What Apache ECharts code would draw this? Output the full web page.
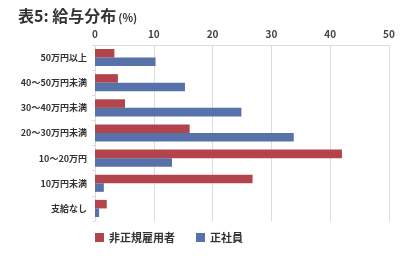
<!DOCTYPE html>
<html>
<head>
<meta charset="utf-8">
<script src="https://cdn.jsdelivr.net/npm/echarts@6/dist/echarts.min.js"></script>
<style>
	html, body { margin: 0; padding: 0; background: #fff; }
	#chart { width: 400px; height: 259px; }
</style>
</head>
<body>
<div id="chart"></div>
<script>
var categories = ['50万円以上', '40〜50万円未満', '30〜40万円未満', '20〜30万円未満', '10〜20万円', '10万円未満', '支給なし'];
var nonRegular = [3.3, 3.9, 5.1, 16.1, 42.0, 26.8, 2.0];
var regular = [10.3, 15.3, 24.9, 33.8, 13.1, 1.5, 0.7];
var seriesNames = ['非正規雇用者', '正社員'];

var font = '"Noto Sans CJK JP", "Noto Sans", sans-serif';

function initPage() {
	var myChart = echarts.init(document.getElementById('chart'));

	myChart.setOption({
		animation : false,
		title : {
			text : '表5: 給与分布{s|(%)}',
			left : 13,
			top : 3,
			textStyle : {
				fontFamily : font,
				fontSize : 16,
				fontWeight : 'bold',
				color : '#333',
				rich : {
					s : {
						fontFamily : font,
						fontSize : 11,
						fontWeight : 'bold',
						color : '#333',
						padding : [4, 0, 0, 2]
					}
				}
			}
		},
		legend : {
			bottom : 11,
			left : 90,
			itemWidth : 9,
			itemHeight : 9,
			itemGap : 21,
			icon : 'rect',
			textStyle : {
				fontFamily : font,
				fontSize : 11,
				fontWeight : 'bold',
				color : '#333'
			},
			data : seriesNames
		},
		grid : {
			left : 95,
			right : 11,
			top : 45,
			bottom : 38
		},
		xAxis : {
			type : 'value',
			position : 'top',
			min : 0,
			max : 50,
			interval : 10,
			axisLine : {
				show : true,
				lineStyle : { color : '#dcdce0' }
			},
			axisTick : { show : false },
			axisLabel : {
				fontFamily : font,
				fontSize : 10,
				fontWeight : 'bold',
				color : '#444',
				margin : 6
			},
			splitLine : {
				lineStyle : { color : '#dcdce0' }
			}
		},
		yAxis : {
			type : 'category',
			inverse : true,
			data : categories,
			axisLine : { show : false },
			axisTick : {
				show : true,
				length : 3,
				lineStyle : { color : '#dcdce0' }
			},
			axisLabel : {
				fontFamily : font,
				fontSize : 9,
				fontWeight : 'bold',
				color : '#333',
				margin : 8
			}
		},
		series : [ {
			name : seriesNames[0],
			type : 'bar',
			data : nonRegular,
			barGap : '0%',
			barCategoryGap : '32%',
			itemStyle : { color : '#b3444c' }
		}, {
			name : seriesNames[1],
			type : 'bar',
			data : regular,
			itemStyle : { color : '#5672a8' }
		} ]
	});
}

initPage();
</script>
</body>
</html>
